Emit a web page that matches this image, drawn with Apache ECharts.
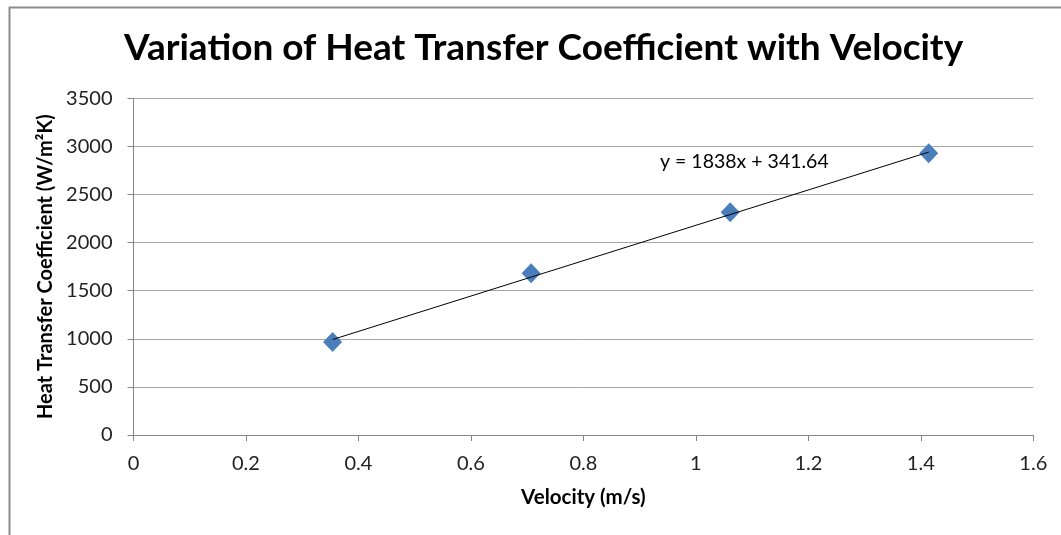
<!DOCTYPE html>
<html>
<head>
<meta charset="utf-8">
<script src="https://cdn.jsdelivr.net/npm/echarts@6/dist/echarts.min.js"></script>
<style>
html,body{margin:0;padding:0;background:#fff;}
#chart{width:1061px;height:535px;}
</style>
</head>
<body>
<div id="chart"></div>
<script>
const velocity = [0.354, 0.707, 1.061, 1.414];
const htc = [966, 1682, 2316, 2929];
const trendX = [0.354, 1.414];
const trendY = [992.3, 2940.6];
const xTicks = [0, 0.2, 0.4, 0.6, 0.8, 1, 1.2, 1.4, 1.6];
const yTicks = [0, 500, 1000, 1500, 2000, 2500, 3000, 3500];
const titleText = 'Variation of Heat Transfer Coefficient with Velocity';
const equationText = 'y = 1838x + 341.64';

const chart = echarts.init(document.getElementById('chart'), null, {renderer: 'canvas'});
const font = 'Lato, "Open Sans", sans-serif';
chart.setOption({
  animation: false,
  backgroundColor: '#fff',
  title: {
    text: titleText,
    left: 119,
    top: 25,
    textStyle: {fontFamily: font, fontSize: 37, fontWeight: 'bold', color: '#000'}
  },
  grid: {left: 133.5, right: 27.7, top: 98.3, bottom: 100},
  xAxis: {
    type: 'value',
    min: xTicks[0], max: xTicks[xTicks.length - 1], interval: 0.2,
    name: 'Velocity (m/s)', nameLocation: 'middle', nameGap: 52,
    nameTextStyle: {fontFamily: font, fontSize: 20.5, fontWeight: 'bold', color: '#000'},
    axisLine: {lineStyle: {color: '#868686', width: 1}},
    axisTick: {show: true, length: 6, lineStyle: {color: '#868686'}},
    axisLabel: {fontFamily: font, fontSize: 20, color: '#222', margin: 19,
      formatter: v => String(Math.round(v * 10) / 10)},
    splitLine: {show: false}
  },
  yAxis: {
    type: 'value',
    min: yTicks[0], max: yTicks[yTicks.length - 1], interval: 500,
    name: 'Heat Transfer Coefficient (W/m\u00B2K)', nameLocation: 'middle', nameGap: 76,
    nameTextStyle: {fontFamily: font, fontSize: 20, fontWeight: 'bold', color: '#000'},
    axisLine: {show: true, lineStyle: {color: '#868686', width: 1}},
    axisTick: {show: true, length: 6, lineStyle: {color: '#868686'}},
    axisLabel: {fontFamily: font, fontSize: 20, color: '#222', margin: 21,
      formatter: v => String(v)},
    splitLine: {show: true, lineStyle: {color: '#a6a6a6', width: 1}}
  },
  series: [
    {
      type: 'line',
      data: trendX.map((x, i) => [x, trendY[i]]),
      symbol: 'none',
      lineStyle: {color: '#000', width: 1},
      z: 3
    },
    {
      type: 'scatter',
      data: velocity.map((x, i) => [x, htc[i]]),
      symbol: 'diamond',
      symbolSize: [19, 20],
      itemStyle: {color: '#4a7ebb', opacity: 1},
      z: 2
    }
  ],
  graphic: [
    {type: 'rect', left: 7, top: 5, shape: {x: 0, y: 0, width: 1100, height: 600},
      style: {fill: 'none', stroke: '#8c8c8c', lineWidth: 2}, silent: true, z: -10},
    {type: 'text', left: 660, top: 152,
      style: {text: equationText, font: '19.5px ' + font, fill: '#000'}}
  ]
});
</script>
</body>
</html>
